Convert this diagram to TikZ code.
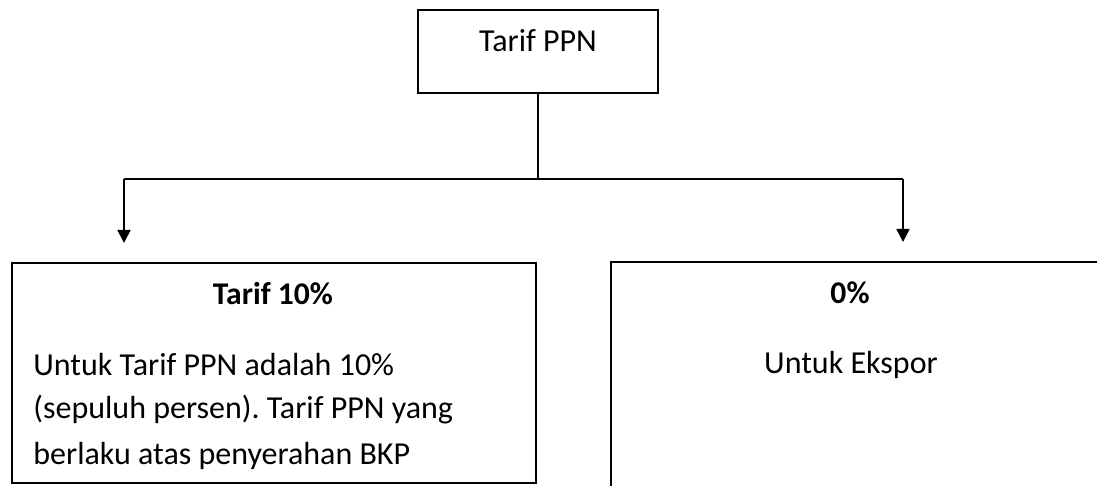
\documentclass[tikz,border=0pt]{standalone}
\usepackage{fontspec}
\setmainfont{Carlito}
\usetikzlibrary{arrows.meta}
\frenchspacing
\begin{document}
\begin{tikzpicture}[x=0.5pt,y=-0.5pt,
  kotak/.style={draw,line width=1.3pt,inner sep=0pt,outer sep=0pt},
  garis/.style={line width=0.85pt},
  panah/.style={garis,-{Triangle[length=6.5pt,width=6.5pt]}},
  teks/.style={inner sep=0pt,anchor=base,font=\fontsize{16}{19}\selectfont},
  judul/.style={teks},
  tebal/.style={teks,font=\fontsize{15.8}{19}\selectfont\bfseries},
  isi/.style={teks,anchor=base west}]
  \useasboundingbox (0,0) rectangle (1097,486);
  \clip (0,0) rectangle (1097,486);
  % kotak
  \node[kotak,minimum width=120pt,minimum height=41.5pt] (tarifppn) at (538,51.5) {};
  \node[kotak,minimum width=262pt,minimum height=110pt] (sepuluh) at (274,373) {};
  \node[kotak,minimum width=249.5pt,minimum height=119pt] (nol) at (860.5,381) {};
  % teks
  \node[judul] (judulppn) at (538,52) {Tarif PPN};
  \node[tebal] (judulsepuluh) at (273,305) {Tarif 10\%};
  \node[isi] (baris1) at (33,375) {Untuk Tarif PPN adalah 10\%};
  \node[isi] (baris2) at (33,418) {(sepuluh persen). Tarif PPN yang};
  \node[isi] (baris3) at (33,464) {berlaku atas penyerahan BKP};
  \node[tebal] (judulnol) at (850,303) {0\%};
  \node[teks] (ekspor) at (851,373) {Untuk Ekspor};
  % garis penghubung
  \coordinate (cabang) at (538,179);
  \coordinate (kiri) at (124,179);
  \coordinate (kanan) at (903,179);
  \draw[garis] (tarifppn.south) -- (cabang);
  \draw[garis] (kiri) -- (kanan);
  \draw[panah,shorten >=10pt] (kiri) -- (kiri |- sepuluh.north);
  \draw[panah,shorten >=10pt] (kanan) -- (kanan |- nol.north);
\end{tikzpicture}
\end{document}
